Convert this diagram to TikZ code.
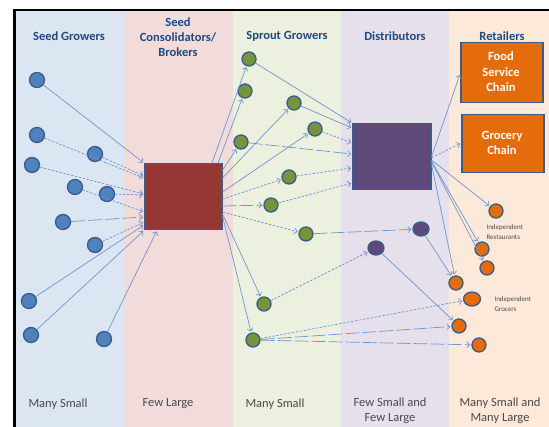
\documentclass[tikz,border=0pt]{standalone}
\usepackage{fontspec}
\setmainfont{Carlito}
\usetikzlibrary{arrows.meta,shapes.geometric}
\definecolor{bandA}{HTML}{DCE6F2}
\definecolor{bandB}{HTML}{F2DCDB}
\definecolor{bandC}{HTML}{EBF1DE}
\definecolor{bandD}{HTML}{E5E0EC}
\definecolor{bandE}{HTML}{FDE9D9}
\definecolor{headc}{HTML}{1F497D}
\definecolor{footc}{HTML}{4A4A4A}
\definecolor{bordc}{HTML}{385D8A}
\definecolor{arrc}{RGB}{112,150,206}
\definecolor{cblue}{HTML}{4F81BD}
\definecolor{cgreen}{HTML}{77933C}
\definecolor{cpurple}{HTML}{5F497A}
\definecolor{corange}{HTML}{E46C0A}
\definecolor{cred}{HTML}{953735}
\begin{document}
\begin{tikzpicture}[x=1pt,y=-1pt,
  circ/.style={circle, draw=bordc, line width=1.3pt, minimum size=15pt, inner sep=0pt},
  sgnode/.style={circ, fill=cblue},
  spnode/.style={circ, fill=cgreen, minimum size=14pt},
  dinode/.style={ellipse, draw=bordc, line width=1.3pt, inner sep=0pt, fill=cpurple, minimum width=16pt, minimum height=14pt},
  rtnode/.style={circ, fill=corange, minimum size=14pt},
  bigbox/.style={draw=bordc, line width=1.5pt, inner sep=0pt, anchor=north west},
  head/.style={text=headc, font=\fontsize{12.5}{15}\selectfont\bfseries, align=center},
  foot/.style={text=footc, font=\fontsize{12.5}{15}\selectfont, align=center},
  boxtxt/.style={text=white, font=\fontsize{12.5}{15.5}\selectfont\bfseries, align=center},
  small/.style={text=footc, font=\fontsize{7}{10}\selectfont, align=left, anchor=west},
  arr/.style={draw=arrc, line width=0.7pt, -{Straight Barb[length=3pt,width=6pt]}, shorten >=1pt},
  dsh/.style={arr, dash pattern=on 2.5pt off 1.5pt},
  ldsh/.style={arr, dash pattern=on 14pt off 3pt}
]
\useasboundingbox (0,0) rectangle (549,427);
\fill[white] (0,0) rectangle (549,427);
% bands
\fill[bandA] (16,11) rectangle (124,427);
\fill[bandB] (124,11) rectangle (233,427);
\fill[bandC] (233,11) rectangle (341,427);
\fill[bandD] (341,11) rectangle (449,427);
\fill[bandE] (449,11) rectangle (549,427);
\draw[line width=2.8pt] (14.5,427) -- (14.5,10) -- (549,10);

% headers
\node[head] (h1) at (69,36) {Seed Growers};
\node[head] (h2) at (178,37) {Seed\\Consolidators/\\Brokers};
\node[head] (h3) at (287,36) {Sprout Growers};
\node[head] (h4) at (395,36) {Distributors};
\node[head] (h5) at (502,36) {Retailers};

% footers
\node[foot] (f1) at (58,404) {Many Small};
\node[foot] (f2) at (168,404) {Few Large};
\node[foot] (f3) at (275,404) {Many Small};
\node[foot] (f4) at (390,411) {Few Small and\\Few Large};
\node[foot] (f5) at (500,411) {Many Small and\\Many Large};

% big boxes
\node[bigbox, fill=cred, minimum width=77pt, minimum height=66pt] (red) at (144,163) {};
\node[bigbox, fill=cpurple, minimum width=78pt, minimum height=66pt] (pur) at (352,123) {};
\node[bigbox, fill=corange, minimum width=82pt, minimum height=60pt] (food) at (460,42) {};
\node[bigbox, fill=corange, minimum width=82pt, minimum height=58pt] (groc) at (461,114) {};
\node[boxtxt] (foodt) at (501,72) {Food\\Service\\Chain};
\node[boxtxt] (groct) at (502,143) {Grocery\\Chain};

% seed growers
\node[sgnode] (b1) at (37,80) {};
\node[sgnode] (b2) at (37,135) {};
\node[sgnode] (b3) at (32,165) {};
\node[sgnode] (b4) at (95,154) {};
\node[sgnode] (b5) at (75,187) {};
\node[sgnode] (b6) at (107,194) {};
\node[sgnode] (b7) at (63,222) {};
\node[sgnode] (b8) at (95,245) {};
\node[sgnode] (b9) at (29,301) {};
\node[sgnode] (b10) at (31,335) {};
\node[sgnode] (b11) at (104,339) {};

% sprout growers
\node[spnode] (g1) at (249,59) {};
\node[spnode] (g2) at (245,91) {};
\node[spnode] (g3) at (294,103) {};
\node[spnode] (g4) at (315,129) {};
\node[spnode] (g5) at (241,142) {};
\node[spnode] (g6) at (289,177) {};
\node[spnode] (g7) at (271,205) {};
\node[spnode] (g8) at (306,234) {};
\node[spnode] (g9) at (264,304) {};
\node[spnode] (g10) at (253,340) {};

% small distributors
\node[dinode] (p1) at (376,248) {};
\node[dinode] (p2) at (421,229) {};

% small retailers
\node[rtnode] (o1) at (496,211) {};
\node[rtnode] (o2) at (482,249) {};
\node[rtnode] (o3) at (487,268) {};
\node[rtnode] (o4) at (456,283) {};
\node[rtnode, ellipse, minimum width=17pt, minimum height=14pt] (o5) at (472,299) {};
\node[rtnode] (o6) at (459,326) {};
\node[rtnode] (o7) at (479,345) {};

\node[small] (l1) at (483,232) {Independent\\Restaurants};
\node[small] (l2) at (491,304) {Independent\\Grocers};

% seed growers -> consolidators
\draw[arr] (b1) -- (red.north west);
\draw[dsh] (b2) -- (red.west |- 0,178);
\draw[dsh] (b4) -- (red.west |- 0,176);
\draw[dsh] (b3) -- (red.west |- 0,194);
\draw[dsh] (b6) -- (red.west |- 0,195);
\draw[dsh] (b5) -- (red.west |- 0,212);
\draw[ldsh] (b7) -- (red.west |- 0,217);
\draw[dsh] (b8) -- (red.west |- 0,222);
\draw[arr] (b9) -- (red.west |- 0,225);
\draw[arr] (b10) -- (red.south west);
\draw[arr] (b11) -- (red.south west -| 157,0);

% consolidators -> sprout growers
\draw[arr] (red.north east -| 212,0) -- (g1);
\draw[arr] (red.north east -| 218,0) -- (g2);
\draw[arr] (red.east |- 0,170) -- (g5);
\draw[arr] (red.east |- 0,178) -- (g3);
\draw[arr] (red.east |- 0,192) -- (g4);
\draw[dsh] (red.east |- 0,199) -- (g6);
\draw[ldsh] (red.east |- 0,206) -- (g7);
\draw[dsh] (red.east |- 0,212) -- (g8);
\draw[arr] (red.east |- 0,214) -- (g9);
\draw[arr] (red.east |- 0,216) -- (g10);

% sprout growers -> distributors
\draw[arr] (g1) -- (pur.north west);
\draw[arr] (g3) -- (pur.west |- 0,128);
\draw[dsh] (g4) -- (pur.west |- 0,143);
\draw[ldsh] (g5) -- (pur.west |- 0,154);
\draw[dsh] (g6) -- (pur.west |- 0,168);
\draw[dsh] (g7) -- (pur.west |- 0,183);
\draw[ldsh] (g8) -- (p2);
\draw[dsh] (g9) -- (p1);
\draw[dsh] (g10) -- (o5);
\draw[ldsh] (g10) -- (o6);
\draw[ldsh] (g10) -- (o7);

% distributors -> retailers
\draw[arr] (pur.east |- 0,157) -- (food.west |- 0,74);
\draw[dsh] (pur.east |- 0,158) -- (groc.west |- 0,143);
\draw[arr] (pur.east |- 0,160) -- (o1);
\draw[arr] (pur.east |- 0,161) -- (o2);
\draw[arr] (pur.east |- 0,162) -- (o3);
\draw[arr] (pur.east |- 0,164) -- (o4);
\draw[arr] (p2) -- (o4);
\draw[arr] (p1) -- (o6);
\end{tikzpicture}
\end{document}
